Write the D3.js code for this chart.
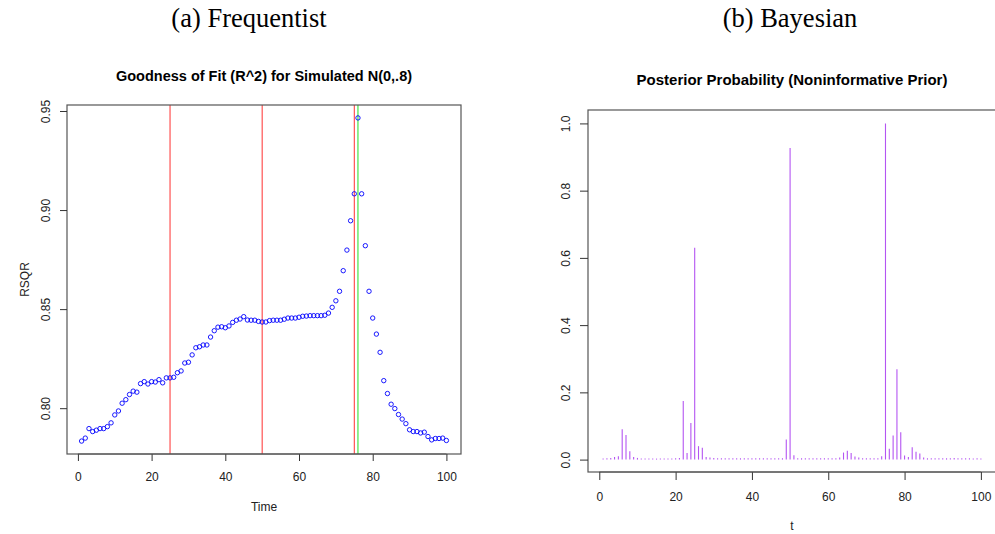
<!DOCTYPE html>
<html>
<head>
<meta charset="utf-8">
<script src="https://cdn.jsdelivr.net/npm/d3@7"></script>
<style>
  body { margin: 0; background: #fff; }
  svg { display: block; }
</style>
</head>
<body>
<div id="chart"></div>
<script>
(function () {

  // R^2 of the fit at each time point (t = 1..100)
  const rsqr = [
    0.7834, 0.7849, 0.7897, 0.7882, 0.7889, 0.7897, 0.7897, 0.7907, 0.7926, 0.7966,
    0.7986, 0.8025, 0.8043, 0.8069, 0.8086, 0.8081, 0.8124, 0.8134, 0.8122, 0.8134,
    0.8132, 0.8144, 0.8128, 0.8153, 0.8153, 0.8156, 0.8179, 0.8188, 0.8228, 0.8232,
    0.8269, 0.8305, 0.8310, 0.8319, 0.8319, 0.8359, 0.8391, 0.8409, 0.8411, 0.8406,
    0.8415, 0.8433, 0.8444, 0.8450, 0.8462, 0.8445, 0.8444, 0.8444, 0.8438, 0.8435,
    0.8435, 0.8442, 0.8444, 0.8444, 0.8444, 0.8449, 0.8455, 0.8455, 0.8455, 0.8459,
    0.8464, 0.8465, 0.8467, 0.8467, 0.8467, 0.8467, 0.8469, 0.8480, 0.8509, 0.8542,
    0.8590, 0.8694, 0.8798, 0.8946, 0.9082, 0.9465, 0.9082, 0.8820, 0.8590, 0.8455,
    0.8374, 0.8282, 0.8139, 0.8074, 0.8020, 0.7998, 0.7968, 0.7945, 0.7922, 0.7891,
    0.7882, 0.7882, 0.7875, 0.7879, 0.7857, 0.7840, 0.7847, 0.7847, 0.7849, 0.7837
  ]

  // Posterior probability of a change point at each t (t = 1..100)
  const posterior = [
    0.003, 0.004, 0.005, 0.008, 0.010, 0.090, 0.073, 0.025, 0.008, 0.005,
    0.003, 0.003, 0.003, 0.003, 0.003, 0.003, 0.003, 0.003, 0.003, 0.004,
    0.005, 0.174, 0.020, 0.109, 0.630, 0.040, 0.035, 0.008, 0.006, 0.005,
    0.004, 0.004, 0.004, 0.004, 0.004, 0.004, 0.004, 0.004, 0.004, 0.004,
    0.004, 0.004, 0.004, 0.004, 0.004, 0.004, 0.004, 0.004, 0.060, 0.927,
    0.013, 0.004, 0.004, 0.004, 0.004, 0.004, 0.004, 0.004, 0.004, 0.004,
    0.004, 0.004, 0.006, 0.021, 0.026, 0.020, 0.009, 0.006, 0.004, 0.004,
    0.004, 0.004, 0.004, 0.010, 1.000, 0.032, 0.072, 0.269, 0.081, 0.012,
    0.008, 0.037, 0.023, 0.018, 0.006, 0.004, 0.004, 0.004, 0.004, 0.004,
    0.004, 0.004, 0.005, 0.004, 0.004, 0.004, 0.004, 0.003, 0.004, 0.003
  ]

  // Vertical reference lines on the left panel
  const estimated_breaks = [25, 50, 75]
  const true_breaks = [76]

  // Tick labels
  const time_ticks = [0, 20, 40, 60, 80, 100]
  const rsqr_ticks = [0.80, 0.85, 0.90, 0.95]
  const prob_ticks = [0, 0.2, 0.4, 0.6, 0.8, 1.0]

  const width = 995
  const height = 534
  const sans = 'Liberation Sans, Arial, sans-serif'

  const svg = d3.select('#chart').append('svg')
    .attr('width', width)
    .attr('height', height)

  // Extend a domain by 4% on each side, like R does
  const r_extent = values => {
    const [lo, hi] = d3.extent(values)
    const pad = (hi - lo) * 0.04
    return [lo - pad, hi + pad]
  }

  const time_of = (d, i) => i + 1

  // Draws box, axes and labels for one panel
  const draw_frame = (g, x, y, opts) => {
    const [x0, x1] = x.range()
    const [y0, y1] = y.range()

    g.append('rect')
      .attr('x', x0).attr('y', y1)
      .attr('width', x1 - x0).attr('height', y0 - y1)
      .attr('fill', 'none')
      .attr('stroke', '#555')
      .attr('stroke-width', 1.2)

    const x_axis = g.append('g')
      .attr('transform', `translate(0,${y0})`)
      .call(d3.axisBottom(x).tickValues(time_ticks).tickSize(opts.tick).tickPadding(opts.x_pad).tickFormat(d3.format('d')))
    x_axis.select('.domain').remove()

    const y_axis = g.append('g')
      .attr('transform', `translate(${x0},0)`)
      .call(d3.axisLeft(y).tickValues(opts.y_ticks).tickSize(opts.tick).tickFormat(opts.y_format))
    y_axis.select('.domain').remove()
    y_axis.selectAll('text')
      .attr('x', 0)
      .attr('dy', 0)
      .attr('text-anchor', 'middle')
      .attr('transform', `translate(${-opts.y_off},0) rotate(-90)`)

    g.selectAll('.tick line').attr('stroke', '#333')
    g.selectAll('.tick text')
      .attr('font-family', sans)
      .attr('font-size', 12)
      .attr('fill', '#222')

    // Axis line from first to last tick
    g.append('line')
      .attr('x1', x(time_ticks[0])).attr('x2', x(time_ticks[time_ticks.length - 1]))
      .attr('y1', y0).attr('y2', y0)
      .attr('stroke', '#555')

    g.append('text')
      .attr('x', (x0 + x1) / 2)
      .attr('y', opts.title_y)
      .attr('text-anchor', 'middle')
      .attr('font-family', sans)
      .attr('font-weight', 'bold')
      .attr('font-size', opts.title_size)
      .text(opts.title)

    g.append('text')
      .attr('x', (x0 + x1) / 2)
      .attr('y', opts.xlab_y)
      .attr('text-anchor', 'middle')
      .attr('font-family', sans)
      .attr('font-size', 12)
      .attr('fill', '#222')
      .text(opts.xlab)

    if (opts.ylab) {
      g.append('text')
        .attr('transform', `translate(${opts.ylab_x},${(y0 + y1) / 2}) rotate(-90)`)
        .attr('text-anchor', 'middle')
        .attr('font-family', sans)
        .attr('font-size', 12)
        .attr('fill', '#222')
        .text(opts.ylab)
    }
  }

  // Panel captions
  const captions = [
    { text: '(a) Frequentist', x: 249 },
    { text: '(b) Bayesian', x: 790 }
  ]
  svg.selectAll('.caption')
    .data(captions)
    .join('text')
    .attr('class', 'caption')
    .attr('x', d => d.x)
    .attr('y', 27)
    .attr('text-anchor', 'middle')
    .attr('font-family', 'Liberation Serif, Times New Roman, serif')
    .attr('font-size', 26.5)
    .text(d => d.text)

  // ---- Left panel: R^2 over time ----
  const left = svg.append('g')
  const x_left = d3.scaleLinear().domain(r_extent([1, rsqr.length])).range([67, 461])
  const y_left = d3.scaleLinear().domain(r_extent(rsqr)).range([454, 105])

  left.selectAll('.brk')
    .data(estimated_breaks)
    .join('line')
    .attr('class', 'brk')
    .attr('x1', d => x_left(d)).attr('x2', d => x_left(d))
    .attr('y1', y_left.range()[0]).attr('y2', y_left.range()[1])
    .attr('stroke', '#ff3030')
    .attr('stroke-width', 1)

  left.selectAll('.true-brk')
    .data(true_breaks)
    .join('line')
    .attr('class', 'true-brk')
    .attr('x1', d => x_left(d)).attr('x2', d => x_left(d))
    .attr('y1', y_left.range()[0]).attr('y2', y_left.range()[1])
    .attr('stroke', '#22dd22')
    .attr('stroke-width', 1)

  left.selectAll('circle')
    .data(rsqr)
    .join('circle')
    .attr('cx', (d, i) => x_left(time_of(d, i)))
    .attr('cy', d => y_left(d))
    .attr('r', 2.2)
    .attr('fill', 'none')
    .attr('stroke', '#0000ff')
    .attr('stroke-width', 0.9)

  draw_frame(left, x_left, y_left, {
    tick: 7, x_pad: 11, y_off: 17,
    y_ticks: rsqr_ticks, y_format: d3.format('.2f'),
    title: 'Goodness of Fit (R^2) for Simulated N(0,.8)', title_y: 80.5, title_size: 14.5,
    xlab: 'Time', xlab_y: 511,
    ylab: 'RSQR', ylab_x: 29
  })

  // ---- Right panel: posterior probability spikes ----
  const right = svg.append('g')
  const x_right = d3.scaleLinear().domain(r_extent([1, posterior.length])).range([588, 996])
  const y_right = d3.scaleLinear().domain(r_extent(posterior)).range([472, 110])

  right.selectAll('.spike')
    .data(posterior)
    .join('line')
    .attr('class', 'spike')
    .attr('x1', (d, i) => x_right(time_of(d, i)))
    .attr('x2', (d, i) => x_right(time_of(d, i)))
    .attr('y1', y_right(0))
    .attr('y2', d => y_right(d))
    .attr('stroke', '#b455f2')
    .attr('stroke-width', 1.1)

  draw_frame(right, x_right, y_right, {
    tick: 8, x_pad: 12, y_off: 18,
    y_ticks: prob_ticks, y_format: d3.format('.1f'),
    title: 'Posterior Probability (Noninformative Prior)', title_y: 84.5, title_size: 15,
    xlab: 't', xlab_y: 530
  })

})()
</script>
</body>
</html>
